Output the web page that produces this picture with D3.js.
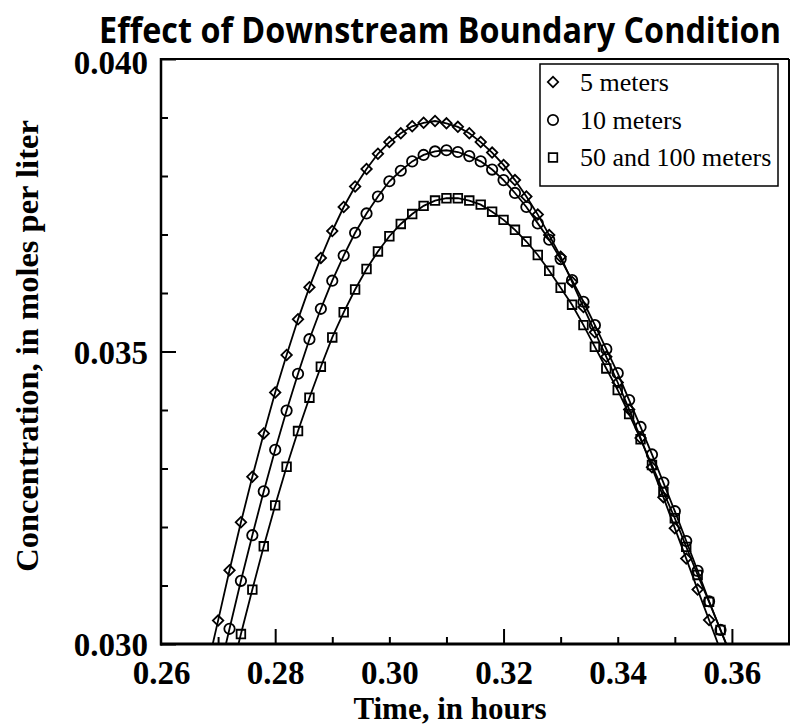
<!DOCTYPE html>
<html><head><meta charset="utf-8">
<script src="https://cdn.jsdelivr.net/npm/d3@7/dist/d3.min.js"></script>
<style>html,body{margin:0;padding:0;background:#fff}svg{display:block}</style>
</head><body>
<svg id="chart" width="794" height="726"></svg>
<script>
// ---------------- data ----------------
const chartTitle = "Effect of Downstream Boundary Condition";
const xTitle = "Time, in hours";
const yTitle = "Concentration, in moles per liter";
const seriesNames = ["5 meters", "10 meters", "50 and 100 meters"];

const time = [0.268,0.270,0.272,0.274,0.276,0.278,0.280,0.282,0.284,0.286,0.288,0.290,0.292,0.294,0.296,0.298,
  0.300,0.302,0.304,0.306,0.308,0.310,0.312,0.314,0.316,0.318,0.320,0.322,0.324,0.326,0.328,0.330,
  0.332,0.334,0.336,0.338,0.340,0.342,0.344,0.346,0.348,0.350,0.352,0.354,0.356,0.358,0.360];

const conc5 = [0.02955,0.03040,0.03126,0.03208,0.03286,0.03360,0.03430,0.03494,0.03555,0.03610,0.03660,0.03706,0.03747,0.03782,0.03812,0.03838,
  0.03858,0.03873,0.03885,0.03891,0.03894,0.03890,0.03884,0.03873,0.03858,0.03840,0.03819,0.03793,0.03765,0.03734,0.03699,0.03662,
  0.03619,0.03576,0.03533,0.03491,0.03447,0.03401,0.03352,0.03302,0.03251,0.03198,0.03146,0.03093,0.03041,0.02989,null];

const conc10 = [null,0.02943,0.03026,0.03108,0.03186,0.03261,0.03332,0.03399,0.03462,0.03521,0.03573,0.03621,0.03664,0.03703,0.03736,0.03765,
  0.03791,0.03809,0.03825,0.03836,0.03842,0.03844,0.03841,0.03834,0.03825,0.03811,0.03793,0.03771,0.03747,0.03719,0.03691,0.03658,
  0.03622,0.03585,0.03545,0.03504,0.03463,0.03417,0.03371,0.03324,0.03276,0.03227,0.03176,0.03125,0.03073,0.03024,0.02975];

const conc50 = [null,null,0.02938,0.03017,0.03093,0.03167,0.03237,0.03303,0.03364,0.03421,0.03474,0.03524,0.03567,0.03606,0.03641,0.03671,
  0.03697,0.03718,0.03735,0.03749,0.03758,0.03762,0.03762,0.03758,0.03751,0.03739,0.03725,0.03708,0.03688,0.03665,0.03638,0.03609,
  0.03580,0.03545,0.03508,0.03471,0.03434,0.03393,0.03350,0.03306,0.03260,0.03215,0.03166,0.03118,0.03072,0.03024,0.02977];

const xDomain = [0.26, 0.37];
const yDomain = [0.030, 0.040];
const xLabelTicks = [0.26, 0.28, 0.30, 0.32, 0.34, 0.36];
const xMajorTicks = [0.28, 0.32, 0.36];
const xMinorTicks = [0.27, 0.29, 0.30, 0.31, 0.33, 0.34, 0.35];
const yLabelTicks = [0.030, 0.035, 0.040];
const yMajorTicks = [0.030, 0.035, 0.040];
const yMinorTicks = [0.031, 0.032, 0.033, 0.034, 0.036, 0.037, 0.038, 0.039];

// ---------------- layout ----------------
const M = {left: 161, right: 789, top: 59, bottom: 644};
const serif = "'Liberation Serif','Times New Roman',Times,serif";
const sans = "'Open Sans','Noto Sans',Arial,sans-serif";
const svg = d3.select("#chart");

const x = d3.scaleLinear().domain(xDomain).range([M.left, M.right]);
const y = d3.scaleLinear().domain(yDomain).range([M.bottom, M.top]);

svg.append("defs").append("clipPath").attr("id", "plotclip")
  .append("rect").attr("x", M.left).attr("y", M.top)
  .attr("width", M.right - M.left).attr("height", M.bottom - M.top);

const series = [
  {name: seriesNames[0], values: conc5, sym: "diamond"},
  {name: seriesNames[1], values: conc10, sym: "circle"},
  {name: seriesNames[2], values: conc50, sym: "square"}
];

function symPath(type) {
  if (type === "circle") return d3.symbol().type(d3.symbolCircle).size(Math.PI * 5.2 * 5.2)();
  if (type === "square") return d3.symbol().type(d3.symbolSquare).size(8.6 * 8.6)();
  return d3.symbol().type(d3.symbolSquare).size(7.4 * 7.4)();
}
function symTransform(type, px, py) {
  return type === "diamond" ? `translate(${px},${py}) rotate(45)` : `translate(${px},${py})`;
}

const line = d3.line()
  .defined(d => d[1] != null)
  .x(d => x(d[0])).y(d => y(d[1]));

const plotG = svg.append("g").attr("clip-path", "url(#plotclip)");
series.forEach(s => {
  const pts = time.map((t, i) => [t, s.values[i]]);
  plotG.append("path").datum(pts).attr("d", line)
    .attr("fill", "none").attr("stroke", "#000").attr("stroke-width", 1.8);
});
series.forEach(s => {
  const pts = time.map((t, i) => [t, s.values[i]])
    .filter(d => d[1] != null && d[1] >= yDomain[0] && d[1] <= yDomain[1]);
  svg.append("g").selectAll("path").data(pts).join("path")
    .attr("d", symPath(s.sym))
    .attr("transform", d => symTransform(s.sym, x(d[0]), y(d[1])))
    .attr("fill", "none").attr("stroke", "#000").attr("stroke-width", 1.8);
});

// ---------------- axes (inward ticks) ----------------
function styleAxis(g) {
  g.select(".domain").remove();
  g.selectAll(".tick line").attr("stroke", "#000").attr("stroke-width", 2);
}
svg.append("g").attr("transform", `translate(0,${M.bottom})`)
  .call(d3.axisBottom(x).tickValues(xMinorTicks).tickSize(-7).tickFormat(""))
  .call(styleAxis);
svg.append("g").attr("transform", `translate(0,${M.bottom})`)
  .call(d3.axisBottom(x).tickValues(xMajorTicks).tickSize(-15).tickFormat(""))
  .call(styleAxis);
svg.append("g").attr("transform", `translate(${M.left},0)`)
  .call(d3.axisLeft(y).tickValues(yMinorTicks).tickSize(-7).tickFormat(""))
  .call(styleAxis);
svg.append("g").attr("transform", `translate(${M.left},0)`)
  .call(d3.axisLeft(y).tickValues(yMajorTicks).tickSize(-15).tickFormat(""))
  .call(styleAxis);

// tick labels
const xl = svg.append("g").attr("transform", `translate(0,${M.bottom})`)
  .call(d3.axisBottom(x).tickValues(xLabelTicks).tickSize(0).tickFormat(d3.format(".2f")));
xl.select(".domain").remove();
xl.selectAll("text").attr("y", 40).attr("dy", 0)
  .attr("font-family", serif).attr("font-weight", "bold").attr("font-size", 33).attr("fill", "#000");

const yl = svg.append("g").attr("transform", `translate(${M.left},0)`)
  .call(d3.axisLeft(y).tickValues(yLabelTicks).tickSize(0).tickFormat(d3.format(".3f")));
yl.select(".domain").remove();
yl.selectAll("text").attr("x", -13)
  .attr("dy", d => d === yDomain[1] ? "0.44em" : "0.36em")
  .attr("font-family", serif).attr("font-weight", "bold").attr("font-size", 33).attr("fill", "#000");

// frame
svg.append("line").attr("x1", M.left).attr("x2", M.right).attr("y1", M.top).attr("y2", M.top)
  .attr("stroke", "#000").attr("stroke-width", 2);
svg.append("line").attr("x1", M.right).attr("x2", M.right).attr("y1", M.top).attr("y2", M.bottom)
  .attr("stroke", "#000").attr("stroke-width", 2);
svg.append("line").attr("x1", M.left).attr("x2", M.left).attr("y1", M.top - 1).attr("y2", M.bottom + 1.5)
  .attr("stroke", "#000").attr("stroke-width", 2.5);
svg.append("line").attr("x1", M.left - 1).attr("x2", M.right + 1).attr("y1", M.bottom).attr("y2", M.bottom)
  .attr("stroke", "#000").attr("stroke-width", 2.8);

// ---------------- titles ----------------
function fitText(sel, targetW) {
  const w = sel.node().getComputedTextLength();
  const cx = +sel.attr("x"), cy = +sel.attr("y");
  const k = targetW / w;
  sel.attr("transform", `translate(${cx},${cy}) scale(${k},1) translate(${-cx},${-cy})`);
}
const tt = svg.append("text").attr("x", 440).attr("y", 43).attr("text-anchor", "middle")
  .attr("font-family", sans).attr("font-weight", 700).attr("font-size", 35).attr("fill", "#000")
  .text(chartTitle);
fitText(tt, 682);

svg.append("text").attr("x", 450).attr("y", 719).attr("text-anchor", "middle")
  .attr("font-family", serif).attr("font-weight", "bold").attr("font-size", 31).attr("fill", "#000")
  .text(xTitle);

svg.append("text").attr("transform", "translate(38,346) rotate(-90)").attr("text-anchor", "middle")
  .attr("font-family", serif).attr("font-weight", "bold").attr("font-size", 32.5).attr("fill", "#000")
  .text(yTitle);

// ---------------- legend ----------------
const lg = {x: 540, y: 64, w: 238, h: 122};
svg.append("rect").attr("x", lg.x).attr("y", lg.y).attr("width", lg.w).attr("height", lg.h)
  .attr("fill", "#fff").attr("stroke", "#000").attr("stroke-width", 1.5);
const rowY = [82, 120, 157.5];
series.forEach((s, i) => {
  svg.append("path").attr("d", symPath(s.sym))
    .attr("transform", symTransform(s.sym, 553, rowY[i]))
    .attr("fill", "none").attr("stroke", "#000").attr("stroke-width", 1.7);
  svg.append("text").attr("x", 580).attr("y", rowY[i] + 8.5)
    .attr("font-family", serif).attr("font-size", 26).attr("fill", "#000")
    .text(s.name);
});
</script>
</body></html>
